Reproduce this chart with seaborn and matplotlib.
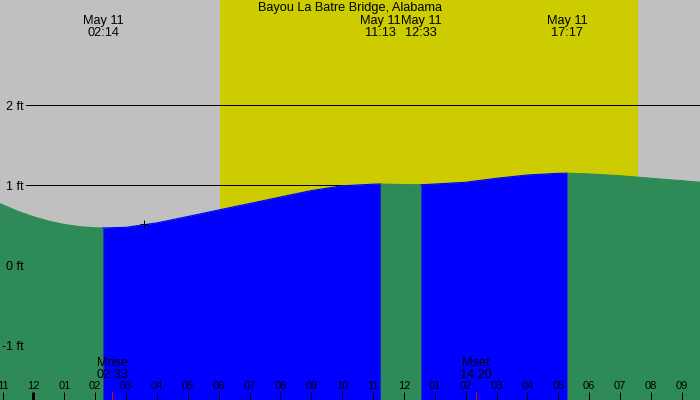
import matplotlib
matplotlib.use("Agg")
import matplotlib.pyplot as plt
import numpy as np
import pandas as pd
import seaborn as sns

plt.rcParams["font.family"] = ["Liberation Sans", "DejaVu Sans"]

# ---------------- data ----------------
station = "Bayou La Batre Bridge, Alabama"
tide_hours = [-1.085, -0.5, 0, 0.5, 1, 1.5, 2, 2.25, 3, 4, 5, 6, 7, 8, 9,
              10, 11, 11.23, 12, 12.55, 13, 14, 15, 16, 17, 17.28, 18, 19,
              20, 21, 21.59]
tide_ft = [0.766, 0.670, 0.603, 0.548, 0.506, 0.479, 0.465, 0.4625, 0.471,
           0.527, 0.606, 0.688, 0.768, 0.850, 0.930, 0.990, 1.010, 1.0125,
           1.005, 1.003, 1.012, 1.034, 1.084, 1.125, 1.146, 1.148, 1.138,
           1.116, 1.084, 1.054, 1.034]
extreme_hours = [2.25, 11.23, 12.55, 17.28]
extreme_dates = ["May 11", "May 11", "May 11", "May 11"]
extreme_times = ["02:14", "11:13", "12:33", "17:17"]
sunrise_hour, sunset_hour = 6.05, 19.57
moon_hours = [2.55, 14.333]
moon_names = ["Mrise", "Mset"]
moon_times = ["02:33", "14:20"]
level_ft = [2, 1, 0, -1]
level_labels = ["2 ft", "1 ft", "0 ft", "-1 ft"]
hour_ticks = list(range(-1, 22))
hour_labels = ["11", "12", "01", "02", "03", "04", "05", "06", "07", "08",
               "09", "10", "11", "12", "01", "02", "03", "04", "05", "06",
               "07", "08", "09"]
midnight_hour = 0
now_hour, now_ft = 3.59, 0.51

# ---------------- styling ----------------
W, H = 700, 400
PX = 72.0 / 100.0  # points per pixel
xmin, xmax = -1.085, 21.59
ymin, ymax = -1.6875, 3.3125
c_sky = "#C0C0C0"
c_sun = "#CCCC00"
c_fall = "#2E8B57"
c_rise = "#0000FF"

fig = plt.figure(figsize=(7, 4), dpi=100)
ax = fig.add_axes([0, 0, 1, 1])
ax.set_facecolor(c_sky)
for s in ax.spines.values():
    s.set_visible(False)
ax.set_xlim(xmin, xmax)
ax.set_ylim(ymin, ymax)
ax.set_axisbelow(False)

# daylight
ax.axvspan(sunrise_hour, sunset_hour, color=c_sun, lw=0, zorder=0.5)

# reference lines
for lv in level_ft:
    ax.axhline(lv, xmin=26 / W, xmax=1, color="black", lw=1 * PX, zorder=0.8)

# tide segments
bounds = [tide_hours[0]] + extreme_hours + [tide_hours[-1]]
rows = []
for i in range(len(bounds) - 1):
    phase = "fall" if i % 2 == 0 else "rise"
    for h, f in zip(tide_hours, tide_ft):
        if bounds[i] - 1e-9 <= h <= bounds[i + 1] + 1e-9:
            rows.append({"hour": h, "ft": f, "phase": phase, "seg": i})
df = pd.DataFrame(rows)

ax.fill_between(tide_hours, tide_ft, ymin, color=c_fall, lw=0, zorder=1)
for seg, g in df[df.phase == "rise"].groupby("seg"):
    ax.fill_between(g.hour, g.ft, ymin, color=c_rise, lw=0, zorder=1.05)

sns.lineplot(data=df, x="hour", y="ft", hue="phase", units="seg",
             estimator=None, palette={"fall": c_fall, "rise": c_rise},
             lw=0.8, legend=False, ax=ax, zorder=1.1)

# current position marker
sns.scatterplot(x=[now_hour], y=[now_ft], marker="+", s=36, color="black",
                linewidth=1 * PX, ax=ax, zorder=3)

# x ticks (hours), inside
ax.set_xticks(hour_ticks)
ax.set_xticklabels(hour_labels)
ax.tick_params(axis="x", which="major", direction="in", length=8 * PX,
               width=1 * PX, color="black", pad=-19 * PX, labelsize=8,
               labelcolor="black")
for t, h in zip(ax.xaxis.get_major_ticks(), hour_ticks):
    if h == midnight_hour:
        t.tick1line.set_markeredgewidth(3 * PX)
ax.set_xticks(moon_hours, minor=True)
ax.tick_params(axis="x", which="minor", direction="in", length=8 * PX,
               width=1 * PX, color="red")
ax.set_xlabel("")
ax.set_ylabel("")

# y ticks (levels), inside
ax.set_yticks(level_ft)
ax.set_yticklabels(level_labels)
ax.tick_params(axis="y", direction="in", length=0, pad=-24 * PX,
               labelsize=9, labelcolor="black")

xt = ax.get_xaxis_transform()
fs = 9.2

def fy(px):
    return 1 - px / H

ax.text(0.5, fy(11.5), station, transform=ax.transAxes, ha="center",
        va="baseline", fontsize=fs, zorder=3)
for h, d, t in zip(extreme_hours, extreme_dates, extreme_times):
    ax.text(h, fy(24), d, transform=xt, ha="center", va="baseline",
            fontsize=fs, zorder=3)
    ax.text(h, fy(36), t, transform=xt, ha="center", va="baseline",
            fontsize=fs, zorder=3)
for h, n, t in zip(moon_hours, moon_names, moon_times):
    ax.text(h, fy(366), n, transform=xt, ha="center", va="baseline",
            fontsize=fs, zorder=3)
    ax.text(h, fy(377.5), t, transform=xt, ha="center", va="baseline",
            fontsize=fs, zorder=3)

fig.savefig("out.png", dpi=100)
